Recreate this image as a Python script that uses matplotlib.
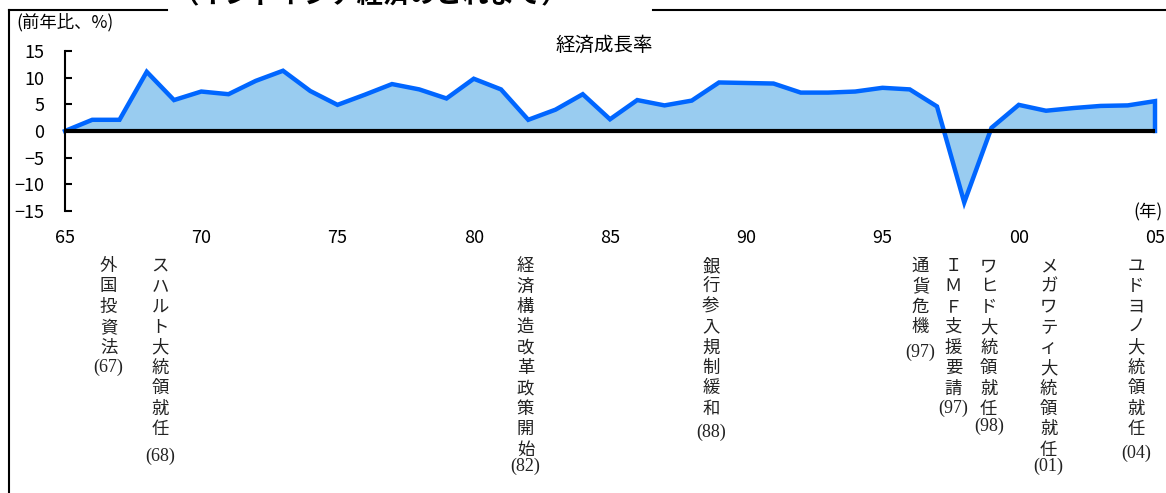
import matplotlib
matplotlib.use("Agg")
import matplotlib.pyplot as plt
import matplotlib.transforms as mtransforms
from matplotlib.lines import Line2D

plt.rcParams['font.family'] = ['Noto Sans CJK JP', 'DejaVu Sans']

# data
years = list(range(1965, 2006))
growth = [0.0, 2.1, 2.1, 11.1, 5.8, 7.4, 6.9, 9.4, 11.3, 7.5,
          4.9, 6.8, 8.8, 7.8, 6.1, 9.8, 7.8, 2.1, 4.0, 6.9,
          2.2, 5.8, 4.8, 5.7, 9.1, 9.0, 8.9, 7.2, 7.2, 7.4,
          8.1, 7.8, 4.6, -13.4, 0.6, 4.9, 3.8, 4.3, 4.7, 4.8, 5.6]
tick_years = [1965, 1970, 1975, 1980, 1985, 1990, 1995, 2000, 2005]
tick_labels = ["65", "70", "75", "80", "85", "90", "95", "00", "05"]

event_texts = ["外国投資法", "スハルト大統領就任", "経済構造改革政策開始", "銀行参入規制緩和",
               "通貨危機", "ＩＭＦ支援要請", "ワヒド大統領就任", "メガワティ大統領就任",
               "ユドヨノ大統領就任"]
event_years = ["(67)", "(68)", "(82)", "(88)", "(97)", "(97)", "(98)", "(01)", "(04)"]

# layout of the vertical notes (x in years, y in pixels from top)
note_x = [1966.6, 1968.5, 1981.9, 1988.7, 1996.4, 1997.6, 1998.9, 2001.1, 2004.3]
note_year_y = [367, 456, 466, 432, 352, 408, 426, 466, 453]

W, H = 1166, 493
fig = plt.figure(figsize=(W / 100, H / 100), dpi=100)
ax = fig.add_axes([65 / W, 1 - 211 / H, 1090 / W, 160 / H])

ax.fill_between(years, growth, 0, color='#99CCF0', linewidth=0, zorder=1)
ax.plot(years + [years[-1]], growth + [0], color='#0066FF', lw=3.2,
        solid_joinstyle='miter', clip_on=False, zorder=2)
ax.axhline(0, color='black', lw=3, zorder=3)

ax.set_xlim(1965, 2005)
ax.set_ylim(-15, 15)
ax.set_yticks([-15, -10, -5, 0, 5, 10, 15])
ax.set_xticks(tick_years)
ax.set_xticklabels(tick_labels, fontsize=13)
for lab in ax.get_yticklabels():
    lab.set_fontsize(13)
ax.tick_params(axis='y', direction='in', length=5, width=1.5, pad=15)
ax.tick_params(axis='x', length=0, pad=13)
for s in ['top', 'right', 'bottom']:
    ax.spines[s].set_visible(False)
ax.spines['left'].set_linewidth(1.5)

fig.text(604 / W, 1 - 45 / H, "経済成長率", ha='center', va='center', fontsize=14)
fig.text(16 / W, 1 - 22 / H, "(前年比、%)", ha='left', va='center', fontsize=12.5)
fig.text(1163 / W, 1 - 212 / H, "(年)", ha='right', va='center', fontsize=12.5)

# frame with the cut-off title
fig.add_artist(Line2D([9 / W, 9 / W], [0, 1 - 10 / H], color='black', lw=1.5))
fig.add_artist(Line2D([9 / W, 167 / W], [1 - 10 / H, 1 - 10 / H], color='black', lw=1.5))
fig.add_artist(Line2D([653 / W, 1], [1 - 10 / H, 1 - 10 / H], color='black', lw=1.5))
fig.text(370 / W, 1 + 4 / H, "（インドネシア経済のこれまで）", ha='center', va='center',
         fontsize=19, fontweight='bold')

# vertical event notes
trans = mtransforms.blended_transform_factory(ax.transData, fig.transFigure)
step = 20.4
for txt, yr, x, yy in zip(event_texts, event_years, note_x, note_year_y):
    for i, ch in enumerate(txt):
        fig.text(x, 1 - (266 + i * step) / H, ch, transform=trans, ha='center',
                 va='center', fontsize=12.5, color='#222222')
    fig.text(x, 1 - yy / H, yr, transform=trans, ha='center', va='center',
             fontsize=13, color='#222222', family='Liberation Serif')

fig.savefig("out.png", dpi=100)
